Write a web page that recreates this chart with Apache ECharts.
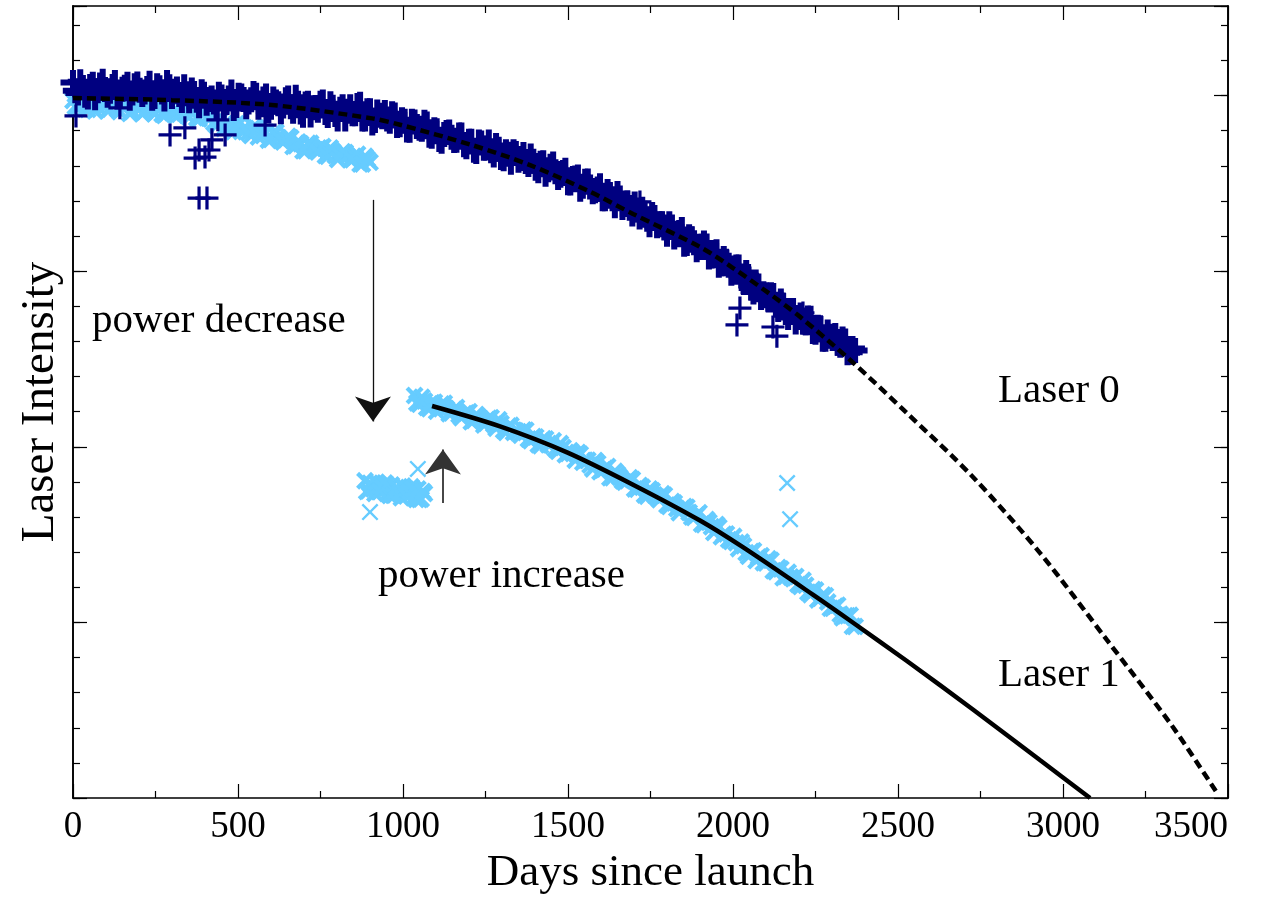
<!doctype html>
<html style="height: 100%">
    <head>
        <meta charset="utf-8">
        <title>Laser Intensity</title>
        <script src="https://cdn.jsdelivr.net/npm/echarts@6/dist/echarts.min.js"></script>
        <style>
            body { margin: 0; background: #fff; }
            #draw { width: 1263px; height: 906px; }
        </style>
    </head>
    <body>
        <div id="draw"></div>
        <script>
            // Laser 0 (+ marks), [days, intensity]
            const laser0Points = [[0,20.37],[15,20.07],[30,20.23],[45,19.96],[60,20.32],[75,20.14],[90,20.41],[105,20.01],[120,20.26],[135,19.96],[150,20.18],[165,20.32],[180,20.07],[195,20.33],[210,20.03],[225,20.20],[240,19.92],[255,20.28],[270,20.10],[285,20.37],[300,19.97],[315,20.19],[330,19.86],[345,20.05],[360,20.16],[375,19.87],[390,20.11],[405,19.78],[420,19.93],[435,19.63],[450,19.96],[465,19.80],[480,20.10],[495,19.72],[510,19.99],[525,19.68],[540,19.88],[555,20.01],[570,19.74],[585,19.99],[600,19.67],[615,19.82],[630,19.54],[645,19.88],[660,19.68],[675,19.95],[690,19.53],[705,19.76],[720,19.45],[735,19.66],[750,19.78],[765,19.52],[780,19.77],[795,19.46],[810,19.61],[825,19.33],[840,19.68],[855,19.48],[870,19.75],[885,19.33],[900,19.57],[915,19.29],[930,19.44],[945,19.52],[960,19.27],[975,19.45],[990,19.17],[1005,19.27],[1020,19.01],[1035,19.25],[1050,19.07],[1065,19.24],[1080,18.87],[1095,19.03],[1110,18.75],[1125,18.89],[1140,18.96],[1155,18.72],[1170,18.88],[1185,18.60],[1200,18.70],[1215,18.44],[1230,18.68],[1245,18.50],[1260,18.68],[1275,18.31],[1290,18.47],[1305,18.20],[1320,18.33],[1335,18.40],[1350,18.16],[1365,18.32],[1380,18.04],[1395,18.13],[1410,17.86],[1425,18.09],[1440,17.89],[1455,18.05],[1470,17.67],[1485,17.81],[1500,17.52],[1515,17.64],[1530,17.68],[1545,17.42],[1560,17.57],[1575,17.26],[1590,17.34],[1605,17.06],[1620,17.27],[1635,17.06],[1650,17.21],[1665,16.81],[1680,16.94],[1695,16.63],[1710,16.74],[1725,16.76],[1740,16.48],[1755,16.61],[1770,16.29],[1785,16.35],[1800,16.05],[1815,16.26],[1830,16.05],[1845,16.19],[1860,15.79],[1875,15.92],[1890,15.61],[1905,15.71],[1920,15.72],[1935,15.43],[1950,15.55],[1965,15.21],[1980,15.26],[1995,14.94],[2010,15.12],[2025,14.86],[2040,14.96],[2055,14.52],[2070,14.60],[2085,14.25],[2100,14.31],[2115,14.33],[2130,14.03],[2145,14.15],[2160,13.82],[2175,13.87],[2190,13.55],[2205,13.75],[2220,13.53],[2235,13.66],[2250,13.26],[2265,13.37],[2280,13.06],[2295,13.15],[2310,13.17],[2325,12.89],[2340,13.01],[2355,12.69],[2370,12.74]]
            const laser0Mid = [[7,20.14],[22,20.39],[37,20.01],[52,20.26],[67,19.94],[82,20.30],[97,20.17],[112,20.12],[127,20.37],[142,19.99],[157,20.24],[172,19.92],[187,20.28],[202,20.15],[217,20.10],[232,20.35],[247,19.97],[262,20.22],[277,19.90],[292,20.25],[307,20.12],[322,20.03],[337,20.25],[352,19.85],[367,20.06],[382,19.71],[397,20.04],[412,19.89],[427,19.82],[442,20.04],[457,19.66],[472,19.93],[487,19.63],[502,20.01],[517,19.89],[532,19.82],[547,20.06],[562,19.67],[577,19.90],[592,19.56],[607,19.90],[622,19.77],[637,19.70],[652,19.93],[667,19.55],[682,19.78],[697,19.44],[712,19.78],[727,19.65],[742,19.58],[757,19.82],[772,19.43],[787,19.67],[802,19.33],[817,19.68],[832,19.55],[847,19.48],[862,19.72],[877,19.33],[892,19.57],[907,19.22],[922,19.53],[937,19.40],[952,19.33],[967,19.48],[982,19.15],[997,19.31],[1012,19.02],[1027,19.27],[1042,19.12],[1057,19.04],[1072,19.19],[1087,18.84],[1102,19.00],[1117,18.70],[1132,18.95],[1147,18.81],[1162,18.73],[1177,18.88],[1192,18.54],[1207,18.70],[1222,18.41],[1237,18.65],[1252,18.51],[1267,18.43],[1282,18.58],[1297,18.24],[1312,18.40],[1327,18.10],[1342,18.35],[1357,18.21],[1372,18.12],[1387,18.28],[1402,17.93],[1417,18.07],[1432,17.76],[1447,17.99],[1462,17.83],[1477,17.73],[1492,17.87],[1507,17.51],[1522,17.65],[1537,17.33],[1552,17.56],[1567,17.40],[1582,17.29],[1597,17.43],[1612,17.06],[1627,17.18],[1642,16.86],[1657,17.08],[1672,16.90],[1687,16.79],[1702,16.91],[1717,16.54],[1732,16.65],[1747,16.32],[1762,16.53],[1777,16.35],[1792,16.23],[1807,16.35],[1822,15.97],[1837,16.10],[1852,15.77],[1867,15.98],[1882,15.81],[1897,15.69],[1912,15.80],[1927,15.40],[1942,15.51],[1957,15.17],[1972,15.36],[1987,15.17],[2002,15.03],[2017,15.12],[2032,14.70],[2047,14.78],[2062,14.41],[2077,14.58],[2092,14.36],[2107,14.20],[2122,14.31],[2137,13.91],[2152,14.02],[2167,13.68],[2182,13.88],[2197,13.68],[2212,13.55],[2227,13.67],[2242,13.28],[2257,13.40],[2272,13.06],[2287,13.27],[2302,13.08],[2317,12.95],[2332,13.07],[2347,12.68],[2362,12.80]]
            const laser0Outliers = [[9,19.42],[142,19.65],[294,18.88],[339,19.08],[370,18.22],[382,18.45],[382,17.08],[400,18.25],[406,17.08],[412,18.45],[421,18.74],[439,19.31],[461,18.88],[582,19.16],[1718,16.97],[2012,13.47],[2021,13.95],[2121,13.41],[2133,13.15],[2212,13.81],[2355,12.67]]

            // Laser 1 (x marks): before the power decrease, low period, after the power increase
            const laser1Before = [[0,19.86],[15,19.67],[30,19.77],[45,19.60],[60,19.84],[75,19.68],[90,19.76],[105,19.57],[120,19.81],[135,19.61],[150,19.66],[165,19.74],[180,19.55],[195,19.65],[210,19.48],[225,19.72],[240,19.58],[255,19.66],[270,19.47],[285,19.71],[300,19.51],[315,19.56],[330,19.63],[345,19.44],[360,19.53],[375,19.36],[390,19.58],[405,19.37],[420,19.40],[435,19.15],[450,19.34],[465,19.11],[480,19.14],[495,19.20],[510,18.98],[525,19.06],[540,18.86],[555,19.08],[570,18.90],[585,18.96],[600,18.75],[615,18.96],[630,18.72],[645,18.74],[660,18.79],[675,18.57],[690,18.63],[705,18.43],[720,18.64],[735,18.46],[750,18.50],[765,18.29],[780,18.51],[795,18.29],[810,18.32],[825,18.38],[840,18.17],[855,18.25],[870,18.05],[885,18.27],[900,18.10]]
            const laser1BeforeMid = [[7,19.69],[22,19.88],[37,19.62],[52,19.78],[67,19.56],[82,19.80],[97,19.69],[112,19.61],[127,19.80],[142,19.54],[157,19.70],[172,19.49],[187,19.73],[202,19.62],[217,19.54],[232,19.73],[247,19.48],[262,19.64],[277,19.43],[292,19.67],[307,19.56],[322,19.47],[337,19.66],[352,19.39],[367,19.55],[382,19.33],[397,19.53],[412,19.36],[427,19.23],[442,19.36],[457,19.06],[472,19.20],[487,18.97],[502,19.18],[517,19.05],[532,18.94],[547,19.11],[562,18.82],[577,18.96],[592,18.73],[607,18.94],[622,18.80],[637,18.68],[652,18.84],[667,18.55],[682,18.68],[697,18.43],[712,18.64],[727,18.50],[742,18.39],[757,18.55],[772,18.27],[787,18.41],[802,18.18],[817,18.40],[832,18.27],[847,18.17],[862,18.33],[877,18.05],[892,18.19]]
            const laser1Low = [[885,9.03],[895,8.75],[905,8.90],[915,8.67],[925,8.92],[935,8.78],[945,8.97],[955,8.70],[965,8.91],[975,8.63],[985,8.78],[995,8.55],[1005,8.81],[1015,8.66],[1025,8.86],[1035,8.58],[1045,8.80],[1055,8.51],[1065,8.67]]
            const laser1LowMid = [[890,8.73],[900,8.96],[910,8.80],[920,8.99],[930,8.72],[940,8.84],[950,8.92],[960,8.61],[970,8.62],[980,8.84],[990,8.68],[1000,8.88],[1010,8.60],[1020,8.73],[1030,8.80],[1040,8.50],[1050,8.50],[1060,8.73]]
            const laser1After = [[1035,11.46],[1050,11.21],[1065,11.30],[1080,11.08],[1095,11.27],[1110,11.11],[1125,11.24],[1140,10.94],[1155,11.07],[1170,10.91],[1185,10.94],[1200,11.00],[1215,10.75],[1230,10.84],[1245,10.62],[1260,10.81],[1275,10.64],[1290,10.77],[1305,10.47],[1320,10.59],[1335,10.41],[1350,10.43],[1365,10.48],[1380,10.22],[1395,10.29],[1410,10.06],[1425,10.23],[1440,10.06],[1455,10.17],[1470,9.87],[1485,9.98],[1500,9.81],[1515,9.81],[1530,9.84],[1545,9.56],[1560,9.62],[1575,9.37],[1590,9.53],[1605,9.34],[1620,9.44],[1635,9.12],[1650,9.22],[1665,9.03],[1680,9.03],[1695,9.07],[1710,8.79],[1725,8.85],[1740,8.59],[1755,8.75],[1770,8.56],[1785,8.66],[1800,8.34],[1815,8.44],[1830,8.24],[1845,8.24],[1860,8.28],[1875,8.00],[1890,8.06],[1905,7.80],[1920,7.93],[1935,7.72],[1950,7.79],[1965,7.44],[1980,7.52],[1995,7.30],[2010,7.27],[2025,7.29],[2040,6.98],[2055,7.02],[2070,6.76],[2085,6.90],[2100,6.69],[2115,6.77],[2130,6.44],[2145,6.52],[2160,6.31],[2175,6.29],[2190,6.31],[2205,6.02],[2220,6.06],[2235,5.79],[2250,5.92],[2265,5.69],[2280,5.76],[2295,5.40],[2310,5.46],[2325,5.23],[2340,5.19],[2355,5.20],[2370,4.88]]
            const laser1AfterMid = [[1042,11.25],[1057,11.41],[1072,11.12],[1087,11.25],[1102,11.01],[1117,11.22],[1132,11.08],[1147,10.96],[1162,11.12],[1177,10.83],[1192,10.96],[1207,10.71],[1222,10.92],[1237,10.78],[1252,10.67],[1267,10.83],[1282,10.53],[1297,10.66],[1312,10.41],[1327,10.61],[1342,10.45],[1357,10.33],[1372,10.47],[1387,10.17],[1402,10.28],[1417,10.03],[1432,10.22],[1447,10.07],[1462,9.94],[1477,10.09],[1492,9.77],[1507,9.89],[1522,9.62],[1537,9.79],[1552,9.62],[1567,9.48],[1582,9.61],[1597,9.29],[1612,9.39],[1627,9.12],[1642,9.30],[1657,9.13],[1672,8.99],[1687,9.12],[1702,8.80],[1717,8.90],[1732,8.63],[1747,8.80],[1762,8.63],[1777,8.49],[1792,8.62],[1807,8.30],[1822,8.40],[1837,8.12],[1852,8.30],[1867,8.13],[1882,7.99],[1897,8.12],[1912,7.78],[1927,7.85],[1942,7.56],[1957,7.71],[1972,7.51],[1987,7.35],[2002,7.45],[2017,7.10],[2032,7.18],[2047,6.88],[2062,7.04],[2077,6.86],[2092,6.70],[2107,6.81],[2122,6.47],[2137,6.56],[2152,6.27],[2167,6.43],[2182,6.24],[2197,6.08],[2212,6.20],[2227,5.86],[2242,5.94],[2257,5.64],[2272,5.78],[2287,5.58],[2302,5.40],[2317,5.49],[2332,5.13],[2347,5.19],[2362,4.89]]
            const laser1Outliers = [[900,8.14],[1045,9.37],[2164,8.97],[2173,7.94]]

            // fitted curves
            const fit0 = [[0,19.93],[300,19.87],[603,19.73],[906,19.35],[991,19.17],[1209,18.59],[1385,18.02],[1567,17.26],[1697,16.63],[1900,15.69],[2000,15.09],[2103,14.41],[2203,13.70],[2355,12.47],[2527,10.96],[2727,9.14],[2930,6.98],[3133,4.50],[3333,2.02],[3467,0.14]]
            const fit1 = [[1088,11.16],[1294,10.58],[1497,9.84],[1697,8.92],[1900,7.90],[2030,7.14],[2242,5.79],[2364,4.99],[2527,3.90],[2727,2.52],[2930,1.08],[3082,0.0]]

            // arrows: [start, end]
            const arrowDecrease = [[909,17.03],[909,10.72]]
            const arrowIncrease = [[1121,8.40],[1121,9.92]]

            const xTicks = { min: 0, max: 3500, interval: 500 }
            const yRange = { min: 0, max: 22.55 }

            const serif = 'Liberation Serif'
            const bandPlus = 'path://M3.8,0H6.2V3.8H10V6.2H6.2V10H3.8V6.2H0V3.8H3.8Z'
            const thinPlus = 'path://M4.3,0H5.7V4.3H10V5.7H5.7V10H4.3V5.7H0V4.3H4.3Z'
            const bandCross = 'path://M0,1.7L1.7,0L5,3.3L8.3,0L10,1.7L6.7,5L10,8.3L8.3,10L5,6.7L1.7,10L0,8.3L3.3,5Z'
            const thinCross = 'path://M0,1L1,0L5,4L9,0L10,1L6,5L10,9L9,10L5,6L1,10L0,9L4,5Z'

            function xAxisOpt(pos, labels) {
                return {
                    type: 'value', position: pos, min: xTicks.min, max: xTicks.max, interval: xTicks.interval,
                    axisLine: { show: true, onZero: false, lineStyle: { color: '#000', width: 1.6 } },
                    axisTick: { show: true, inside: true, length: 14, lineStyle: { color: '#000', width: 1.2 } },
                    minorTick: { show: true, splitNumber: 2, length: 7, lineStyle: { color: '#000', width: 1.2 } },
                    axisLabel: { show: labels, fontFamily: serif, fontSize: 37, color: '#000', margin: 11,
                        alignMaxLabel: 'right', formatter: function (v) { return String(v) } },
                    splitLine: { show: false }, minorSplitLine: { show: false },
                    name: labels ? 'Days since launch' : '', nameLocation: 'middle', nameGap: 38,
                    nameTextStyle: { fontFamily: serif, fontSize: 45, color: '#000' }
                }
            }
            function yAxisOpt(pos, interval, len, named) {
                return {
                    type: 'value', position: pos, min: yRange.min, max: yRange.max, interval: interval,
                    axisLine: { show: true, onZero: false, lineStyle: { color: '#000', width: 1.6 } },
                    axisTick: { show: true, inside: true, length: len, lineStyle: { color: '#000', width: 1.2 } },
                    axisLabel: { show: false }, splitLine: { show: false },
                    name: named ? 'Laser Intensity' : '', nameLocation: 'middle', nameGap: 9,
                    nameTextStyle: { fontFamily: serif, fontSize: 47, color: '#000' }
                }
            }
            function note(text, x, y) {
                return { type: 'text', x: x, y: y, style: { text: text, font: '41px "Liberation Serif"', fill: '#000', align: 'left', verticalAlign: 'middle' } }
            }

            const chart = echarts.init(document.getElementById('draw'))
            chart.setOption({
                animation: false,
                backgroundColor: '#fff',
                grid: { left: 73, right: 35, top: 6, bottom: 108, outerBoundsMode: 'none' },
                xAxis: [xAxisOpt('bottom', true), xAxisOpt('top', false)],
                yAxis: [yAxisOpt('left', 5, 14, true), yAxisOpt('left', 1, 7, false), yAxisOpt('right', 5, 14, false), yAxisOpt('right', 1, 7, false)],
                series: [
                    {
                        name: 'Laser 1', type: 'scatter', z: 2,
                        data: laser1Before.concat(laser1BeforeMid, laser1Low, laser1LowMid, laser1After, laser1AfterMid),
                        symbol: bandCross, symbolSize: 18,
                        itemStyle: { color: '#66ccff', opacity: 1 }
                    },
                    {
                        name: 'Laser 1 outliers', type: 'scatter', z: 2, data: laser1Outliers,
                        symbol: thinCross, symbolSize: 17,
                        itemStyle: { color: '#66ccff', opacity: 1 }
                    },
                    {
                        name: 'Laser 0', type: 'scatter', z: 3, data: laser0Points.concat(laser0Mid),
                        symbol: bandPlus, symbolSize: 25,
                        itemStyle: { color: '#000080', opacity: 1 }
                    },
                    {
                        name: 'Laser 0 outliers', type: 'scatter', z: 3, data: laser0Outliers,
                        symbol: thinPlus, symbolSize: 23,
                        itemStyle: { color: '#000080', opacity: 1 }
                    },
                    {
                        name: 'Laser 0 fit', type: 'line', z: 4, data: fit0, smooth: 0.3,
                        showSymbol: false, lineStyle: { color: '#000', width: 4.5, type: [9, 5] }
                    },
                    {
                        name: 'Laser 1 fit', type: 'line', z: 4, data: fit1, smooth: 0.3,
                        showSymbol: false, lineStyle: { color: '#000', width: 4.5 },
                        markLine: {
                            silent: true, animation: false,
                            symbol: ['none', 'arrow'], symbolSize: [27, 25],
                            label: { show: false },
                            data: [
                                [{ coord: arrowDecrease[0], lineStyle: { color: '#111', width: 1.3, type: 'solid' } }, { coord: arrowDecrease[1] }],
                                [{ coord: arrowIncrease[0], lineStyle: { color: '#333', width: 1.8, type: 'solid' } }, { coord: arrowIncrease[1] }]
                            ]
                        }
                    }
                ],
                graphic: [
                    note('power decrease', 92, 321),
                    note('power increase', 378, 576),
                    note('Laser 0', 998, 391),
                    note('Laser 1', 998, 675)
                ]
            })
        </script>
    </body>
</html>
